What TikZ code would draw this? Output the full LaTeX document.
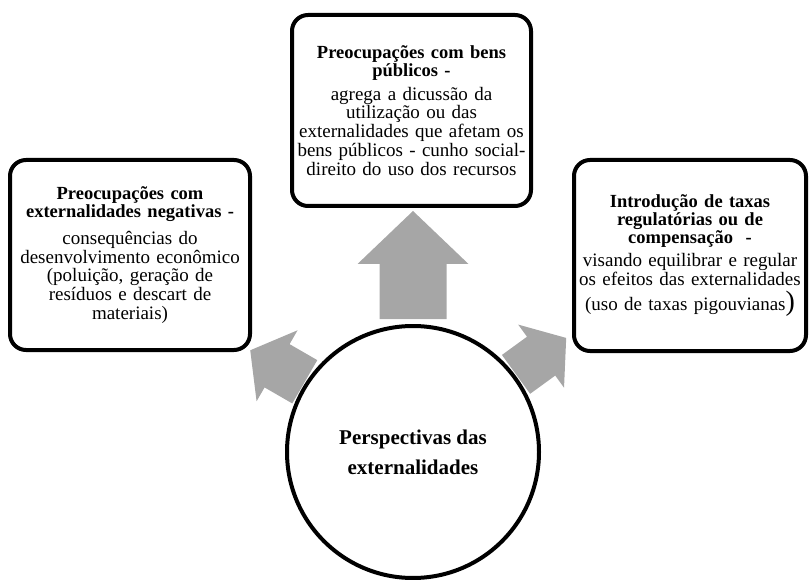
\documentclass[tikz,border=0pt]{standalone}
\usepackage{fontspec}
\setmainfont{Liberation Serif}
\usetikzlibrary{positioning,backgrounds}
\definecolor{arrowgray}{RGB}{166,166,166}
\setlength{\parindent}{0pt}

\begin{document}
\begin{tikzpicture} [x=1pt, y=1pt, every node/.style={draw, line width=4pt, align=center, inner sep=0pt}]

\tikzstyle{hubnode}=[circle, fill=white, minimum size=252pt, font=\bfseries\fontsize{21}{30}\selectfont]
\tikzstyle{box}=[rounded corners=16pt, minimum width=240pt, minimum height=190pt, text width=234pt, font=\fontsize{19}{18.8}\selectfont]
\tikzstyle{blockarrow}=[fill=arrowgray, draw=none]

\useasboundingbox (0,0) rectangle (809,-580);

\node [hubnode] (hub) at (413,-452) {Perspectivas das\\ externalidades};

\node [box, minimum width=239pt, minimum height=191pt] (pub) at (411.5,-110.5)
  {{\bfseries\fontsize{18.5}{18}\selectfont Preocupações com bens\\ públicos -\par}\vspace{5pt}
   agrega a dicussão da\\ utilização ou das\\ externalidades que afetam os\\ bens públicos - cunho social-\\ direito do uso dos recursos};

\node [box] (neg) at (130,-255)
  {{\bfseries\fontsize{18.5}{18}\selectfont Preocupações com\\ externalidades negativas -\par}\vspace{8pt}
   consequências do\\ desenvolvimento econômico\\ (poluição, geração de\\ resíduos e descart de\\ materiais)};

\node [box, minimum width=232pt, minimum height=191pt, text width=228pt] (tax) at (690,-255.5)
  {{\bfseries\fontsize{18.5}{18}\selectfont Introdução de taxas\\ regulatórias ou de\\ compensação~ -\par}\vspace{4pt}
   visando equilibrar e regular\\ os efeitos das externalidades\\[4pt] (uso de taxas pigouvianas{\fontsize{28}{18.8}\selectfont)}\\[6pt]};

\begin{scope}[on background layer]
\fill [blockarrow, shift={(hub.north)}] (-33.5,5) -- (-33.5,60) -- (-55.5,60) -- (0,113) -- (55.5,60) -- (33.5,60) -- (33.5,5) -- cycle;
\fill [blockarrow, shift={(hub.147)}, rotate=150] (1,-25) -- (33,-25) -- (33,-41) -- (64,0) -- (33,41) -- (33,25) -- (1,25) -- cycle;
\fill [blockarrow, shift={(hub.37)}, rotate=36] (1,-24) -- (32,-24) -- (32,-39) -- (63,0) -- (32,39) -- (32,24) -- (1,24) -- cycle;
\end{scope}
\end{tikzpicture}
\end{document}
